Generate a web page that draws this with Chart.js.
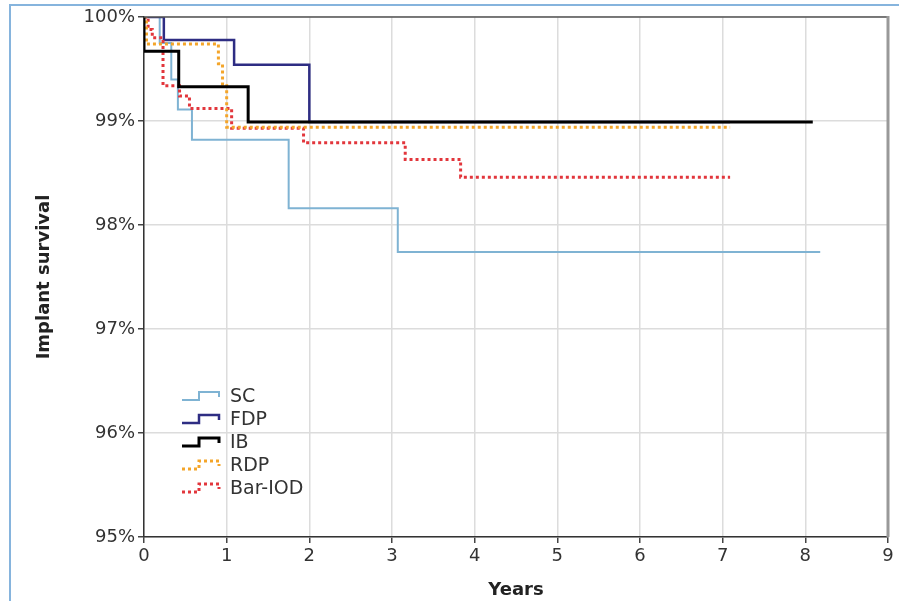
<!DOCTYPE html>
<html>
<head>
<meta charset="utf-8">
<script src="https://cdn.jsdelivr.net/npm/chart.js@4.4.0/dist/chart.umd.min.js"></script>
<style>
  html, body { margin: 0; padding: 0; background: #fff; }
  #wrap { width: 899px; height: 601px; }
</style>
</head>
<body>
<div id="wrap"><canvas id="survivalChart" width="899" height="601"></canvas></div>
<script>
// Kaplan-Meier steps (years, % survival)
const seriesNames = ["SC", "FDP", "IB", "RDP", "Bar-IOD"];

const scYears = [0, 0.19, 0.33, 0.41, 0.58, 1.75, 3.07, 8.18];
const scSurv  = [100, 99.75, 99.40, 99.11, 98.82, 98.16, 97.74, 97.74];

const fdpYears = [0, 0.24, 1.09, 2.0, 7.09];
const fdpSurv  = [100, 99.78, 99.54, 98.99, 98.99];

const ibYears = [0, 0, 0.42, 1.26, 8.09];
const ibSurv  = [100, 99.67, 99.33, 98.99, 98.99];

const rdpYears = [0, 0.03, 0.90, 0.95, 1.0, 7.09];
const rdpSurv  = [100, 99.74, 99.55, 99.34, 98.94, 98.94];

const barYears = [0, 0.05, 0.1, 0.23, 0.43, 0.55, 1.06, 1.93, 3.16, 3.83, 7.09];
const barSurv  = [100, 99.88, 99.80, 99.34, 99.24, 99.12, 98.93, 98.79, 98.63, 98.46, 98.46];

const yearTicks = [0, 1, 2, 3, 4, 5, 6, 7, 8, 9];
const survTicks = [95, 96, 97, 98, 99, 100];

function pts(xs, ys) {
    const out = [];
    for (let i = 0; i < xs.length; i++) out.push({ x: xs[i], y: ys[i] });
    return out;
}

const FONT = "'DejaVu Sans', sans-serif";

// frame + legend drawn around the library's chart area
const framePlugin = {
    id: 'frame',
    beforeDraw(chart) {
        const c = chart.ctx;
        c.save();
        c.fillStyle = '#fff';
        c.fillRect(0, 0, chart.width, chart.height);
        c.strokeStyle = '#86b4dd';
        c.lineWidth = 2;
        c.beginPath();
        c.moveTo(10, 601);
        c.lineTo(10, 5);
        c.lineTo(899, 5);
        c.stroke();
        c.restore();
    },
    afterDraw(chart) {
        const c = chart.ctx;
        const a = chart.chartArea;
        c.save();
        c.strokeStyle = '#555';
        c.lineWidth = 1.5;
        c.beginPath();
        c.moveTo(a.left, a.top);
        c.lineTo(a.right, a.top);
        c.stroke();
        c.strokeStyle = '#999';
        c.lineWidth = 3;
        c.beginPath();
        c.moveTo(a.right, a.top - 1);
        c.lineTo(a.right, a.bottom);
        c.stroke();

        // legend with step-shaped keys
        const ds = chart.data.datasets;
        const x0 = 182, y0 = 396, gap = 23;
        c.font = '19px ' + FONT;
        c.textBaseline = 'middle';
        c.fillStyle = '#333';
        for (let i = 0; i < ds.length; i++) {
            const yc = y0 + i * gap;
            c.strokeStyle = ds[i].borderColor;
            c.lineWidth = ds[i].borderWidth;
            c.setLineDash(ds[i].borderDash || []);
            c.beginPath();
            c.moveTo(x0, yc + 4);
            c.lineTo(x0 + 17, yc + 4);
            c.lineTo(x0 + 17, yc - 4);
            c.lineTo(x0 + 37, yc - 4);
            c.lineTo(x0 + 37, yc + 1);
            c.stroke();
            c.setLineDash([]);
            c.fillText(ds[i].label, x0 + 48, yc + 1);
        }
        c.restore();
    }
};

const baseLine = {
    stepped: 'before',
    pointRadius: 0,
    fill: false,
    borderCapStyle: 'butt',
    borderJoinStyle: 'miter'
};

new Chart(document.getElementById('survivalChart'), {
    type: 'line',
    data: {
        datasets: [
            Object.assign({}, baseLine, { label: seriesNames[0], data: pts(scYears, scSurv), borderColor: '#7fb3d3', borderWidth: 2, order: 4 }),
            Object.assign({}, baseLine, { label: seriesNames[1], data: pts(fdpYears, fdpSurv), borderColor: '#2e2d83', borderWidth: 2.5, order: 3 }),
            Object.assign({}, baseLine, { label: seriesNames[2], data: pts(ibYears, ibSurv), borderColor: '#000000', borderWidth: 3, order: 0 }),
            Object.assign({}, baseLine, { label: seriesNames[3], data: pts(rdpYears, rdpSurv), borderColor: '#f4a52a', borderWidth: 3, borderDash: [3, 3], order: 1 }),
            Object.assign({}, baseLine, { label: seriesNames[4], data: pts(barYears, barSurv), borderColor: '#e2363c', borderWidth: 3, borderDash: [3, 3], order: 2 })
        ]
    },
    options: {
        responsive: false,
        animation: false,
        layout: { padding: { left: 0, right: 11, top: 17, bottom: 0 } },
        plugins: {
            legend: { display: false },
            tooltip: { enabled: false }
        },
        scales: {
            x: {
                type: 'linear',
                min: 0,
                max: 9,
                afterBuildTicks: s => { s.ticks = yearTicks.map(v => ({ value: v })); },
                afterFit: s => { s.height = 64; },
                grid: { color: '#dcdcdc', lineWidth: 1.5, tickColor: '#444', tickLength: 6 },
                border: { color: '#333', width: 1.5 },
                ticks: { color: '#333', padding: 3, font: { family: FONT, size: 18 } },
                title: { display: true, text: 'Years', color: '#222', padding: { top: 0, bottom: 0 }, font: { family: FONT, size: 18, weight: 'bold' } }
            },
            y: {
                min: 95,
                max: 100,
                afterBuildTicks: s => { s.ticks = survTicks.map(v => ({ value: v })); },
                afterFit: s => { s.width = 144; },
                grid: { color: '#dcdcdc', lineWidth: 1.5, tickColor: '#444', tickLength: 6 },
                border: { color: '#333', width: 1.5 },
                ticks: { color: '#333', padding: 3, font: { family: FONT, size: 18 }, callback: v => v + '%' },
                title: { display: true, text: 'Implant survival', color: '#222', padding: { top: 34, bottom: 0 }, font: { family: FONT, size: 18, weight: 'bold' } }
            }
        }
    },
    plugins: [framePlugin]
});
</script>
</body>
</html>
